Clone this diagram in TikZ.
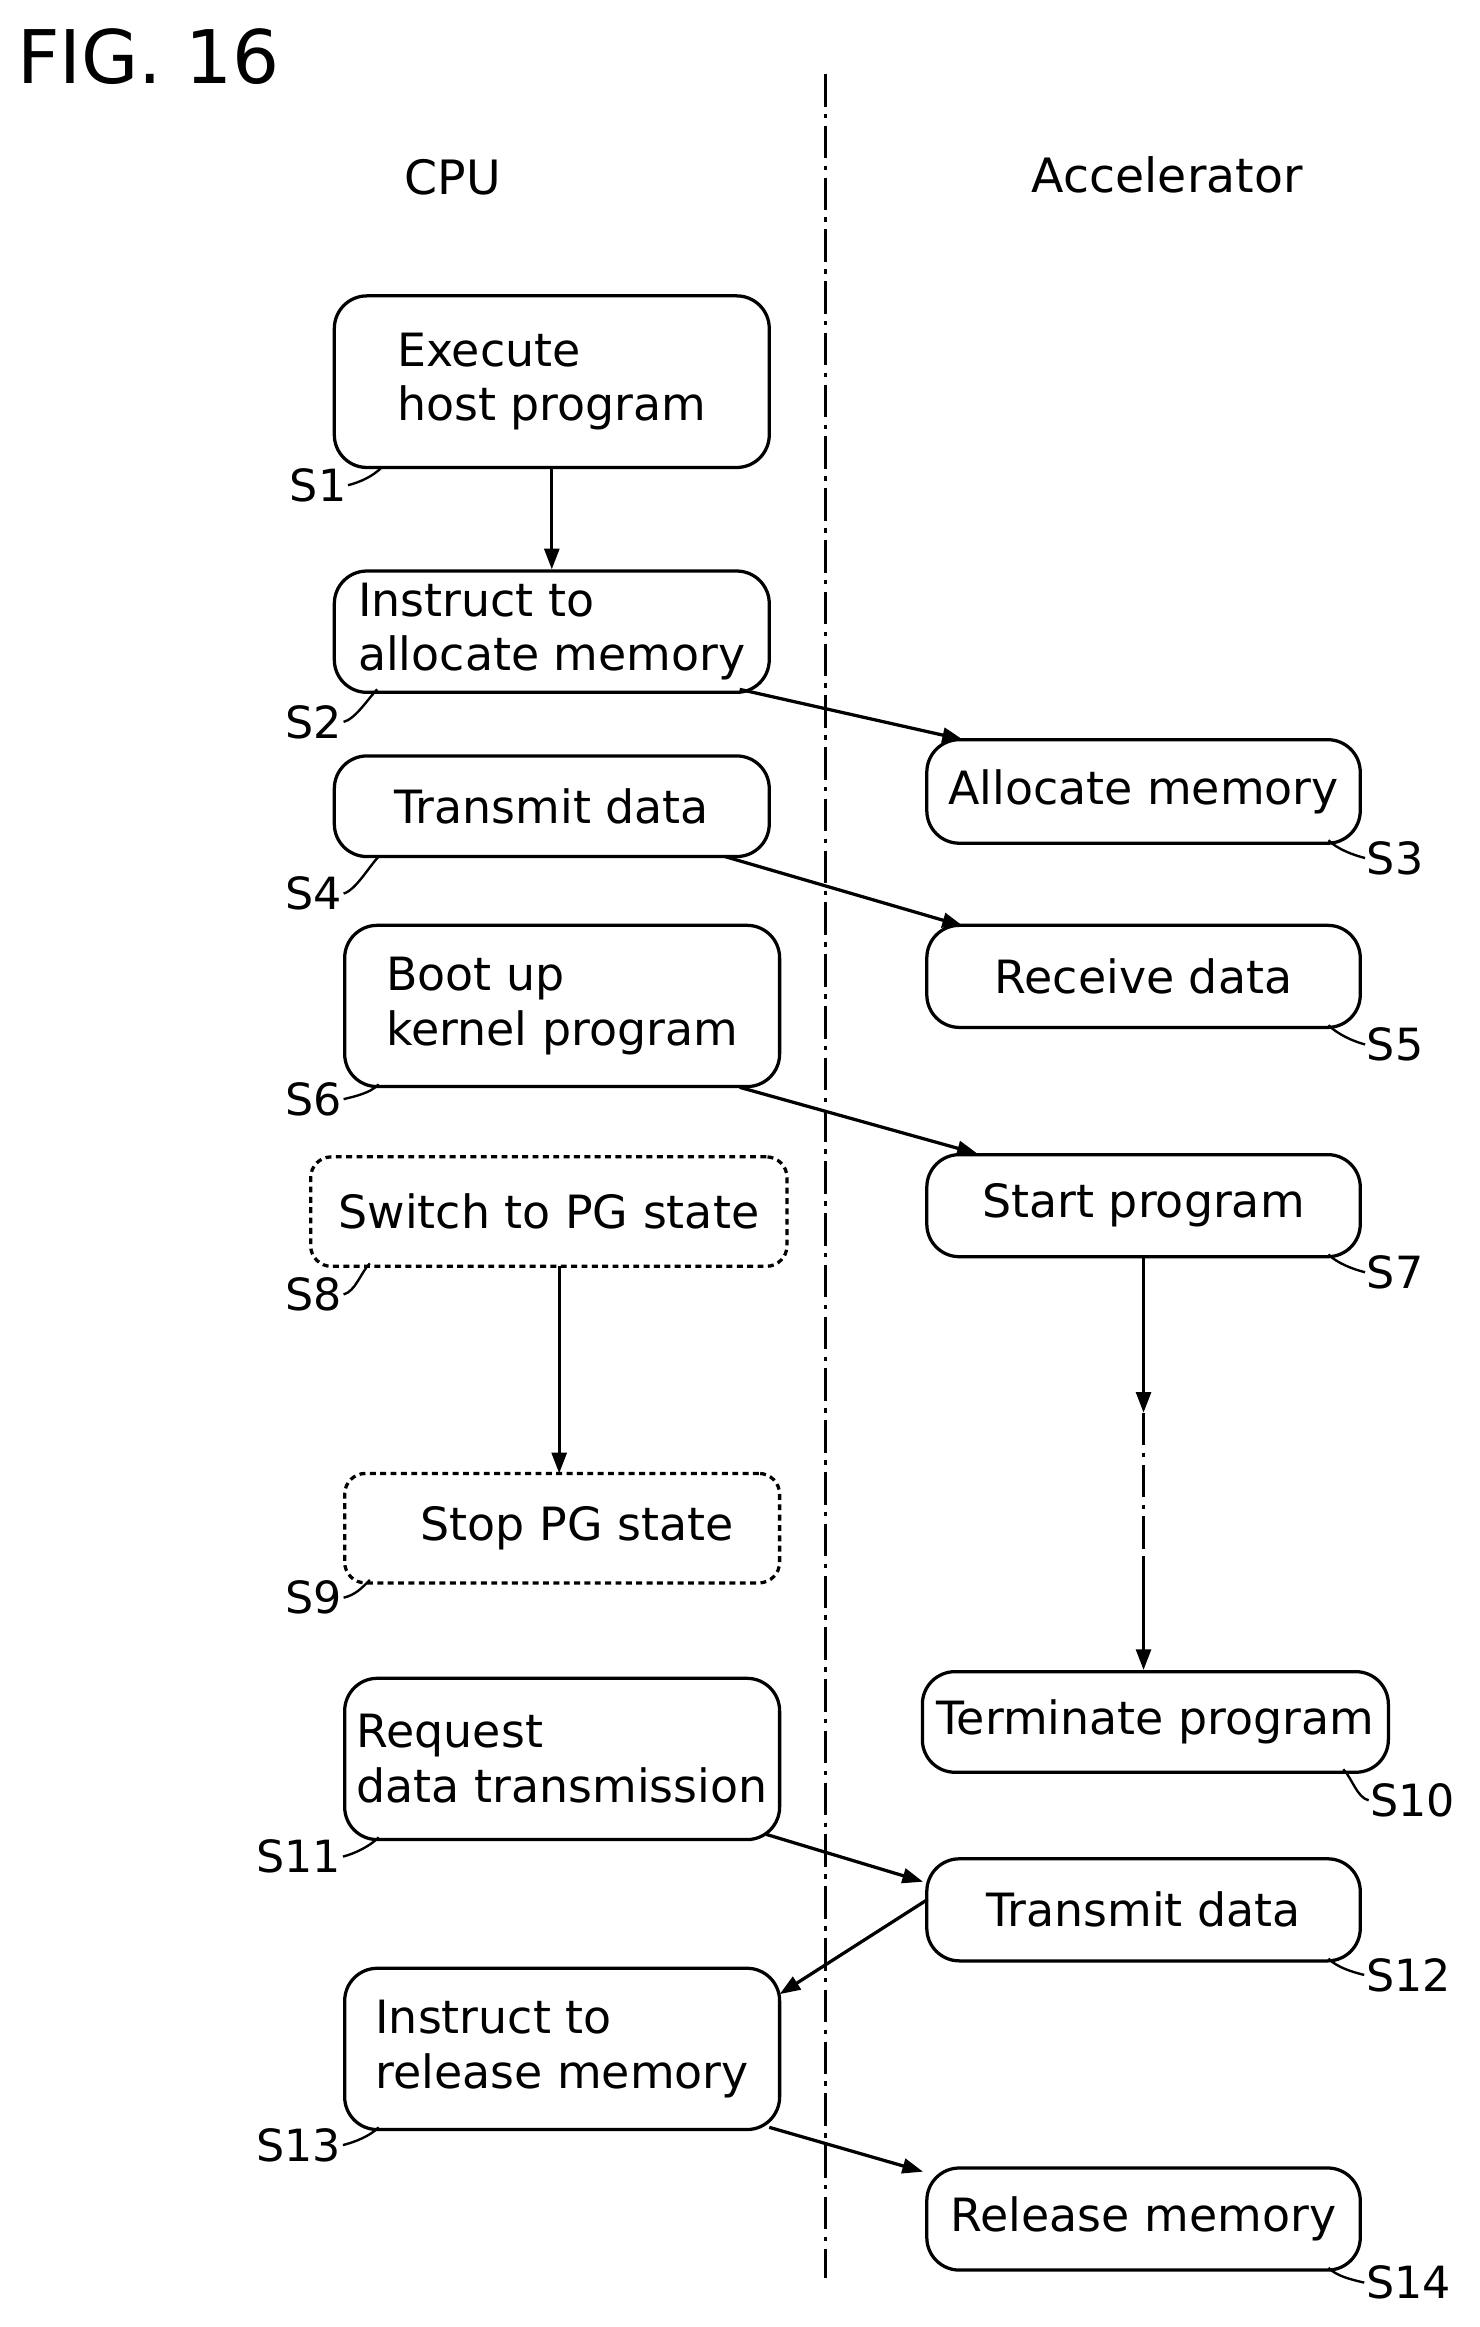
\documentclass[tikz,border=0pt]{standalone}
\usepackage{fontspec}
\setmainfont{DejaVu Sans}
\usetikzlibrary{calc,arrows.meta}
\begin{document}
\begin{tikzpicture}[x=1pt,y=-1pt,
 box/.style={draw,line width=2.2pt,rounded corners=22pt,align=left,inner sep=0pt,font=\fontsize{31}{37}\selectfont},
 dbox/.style={box,dash pattern=on 4pt off 3pt,rounded corners=14pt},
 lab/.style={font=\fontsize{30}{30}\selectfont,inner sep=1pt},
 arr/.style={line width=2.2pt,-{Triangle[length=14pt,width=10pt]}},
 sq/.style={line width=1.6pt}]
\useasboundingbox (0,0) rectangle (1000,1573);
\node[font=\fontsize{50}{50}\selectfont,anchor=west] (fig) at (8,38) {FIG. 16};
\node[font=\fontsize{32}{32}\selectfont] (cpu) at (306,120) {CPU};
\node[font=\fontsize{32}{32}\selectfont] (acc) at (789,118) {Accelerator};
\coordinate (v1) at (558,50); \coordinate (v2) at (558,1540);
\draw[line width=2pt,dash pattern=on 22pt off 5pt on 3pt off 5pt] (v1)--(v2);
\node[box,minimum width=294,minimum height=116] (s1) at (373,258) {Execute\\host program};
\node[box,minimum width=294,minimum height=82] (s2) at (373,427) {Instruct to\\allocate memory};
\node[box,minimum width=293,minimum height=70] (s3) at (773,535) {Allocate memory};
\node[box,minimum width=294,minimum height=68] (s4) at (373,545) {Transmit data};
\node[box,minimum width=293,minimum height=69] (s5) at (773,660) {Receive data};
\node[box,minimum width=294,minimum height=109] (s6) at (380,680) {Boot up\\kernel program};
\node[box,minimum width=293,minimum height=69] (s7) at (773,815) {Start program};
\node[dbox,minimum width=322,minimum height=74] (s8) at (371,819) {Switch to PG state};
\node[dbox,minimum width=294,minimum height=74] (s9) at (380,1033) {\hspace*{20pt}Stop PG state};
\node[box,minimum width=315,minimum height=68] (s10) at (781,1164) {Terminate program};
\node[box,minimum width=294,minimum height=109] (s11) at (380,1189) {Request\\data transmission};
\node[box,minimum width=293,minimum height=69] (s12) at (773,1291) {Transmit data};
\node[box,minimum width=294,minimum height=109] (s13) at (380,1385) {Instruct to\\release memory};
\node[box,minimum width=293,minimum height=69] (s14) at (773,1500) {Release memory};
% arrows
\draw[arr] (s1.south) -- (s2.north);
\draw[arr] (500,466) -- (651,500);
\draw[arr] (490,579) -- (651,626);
\draw[arr] (500,735) -- (661,780);
\draw[arr] (378,856) -- (378,996);
\coordinate (m1) at (773,955); \coordinate (m2) at (773,1055);
\draw[arr] (773,850) -- (m1);
\draw[line width=2.2pt,dash pattern=on 22pt off 5pt on 3pt off 5pt] (m1) -- (m2);
\draw[arr] (m2) -- (s10.north -| m2);
\draw[arr] (518,1240) -- (624,1272);
\draw[arr] (627,1284) -- (527,1348);
\draw[arr] (520,1438) -- (624,1468);
% labels left
\foreach \n/\t/\x/\y/\cx/\cy in {l1/S1/215/328/258/316, l2/S2/212/488/255/466, l4/S4/212/604/256/579, l6/S6/212/743/256/733, l8/S8/212/875/250/854, l9/S9/212/1080/250/1068, l11/S11/202/1255/256/1242, l13/S13/202/1450/256/1438} {
 \node[lab] (\n) at (\x,\y) {\t};
 \draw[sq] (\n.east) .. controls +(8,-2) and +(-6,6) .. (\cx,\cy);
}
% labels right
\foreach \n/\t/\x/\y/\cx/\cy in {l3/S3/943/580/898/568, l5/S5/943/706/898/693, l7/S7/943/860/898/848, l10/S10/955/1217/908/1196, l12/S12/952/1335/898/1324, l14/S14/952/1543/898/1533} {
 \node[lab] (\n) at (\x,\y) {\t};
 \draw[sq] (\n.west) .. controls +(-8,-2) and +(6,6) .. (\cx,\cy);
}
\end{tikzpicture}
\end{document}
